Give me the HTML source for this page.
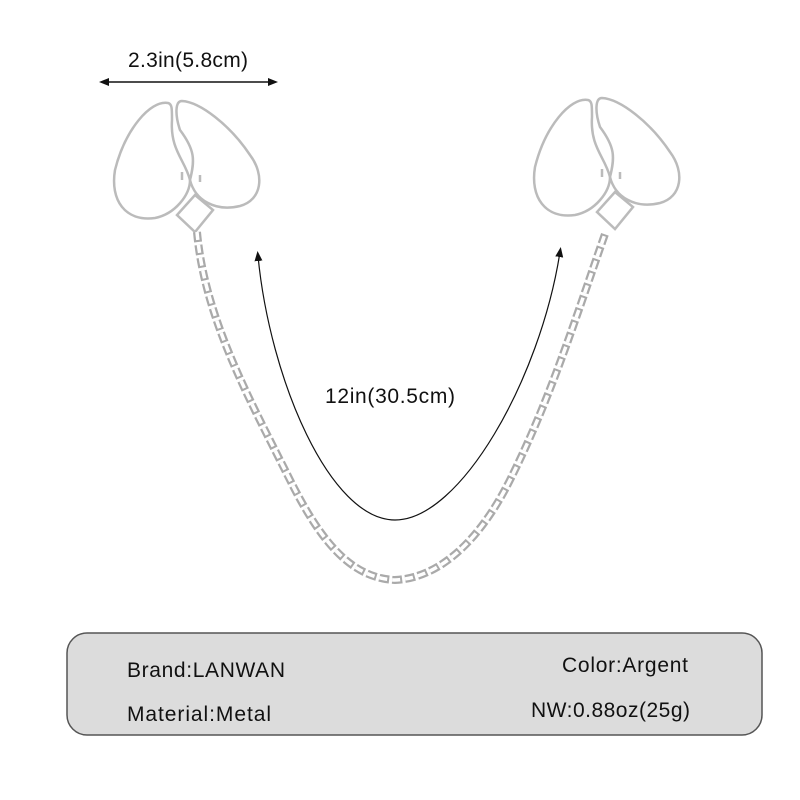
<!DOCTYPE html>
<html><head><style>body{margin:0;background:#fff}svg{display:block}text{font-family:"Liberation Sans",sans-serif;fill:#111}</style></head><body>
<svg width="800" height="800" viewBox="0 0 800 800">
<defs>
<marker id="a" markerWidth="10" markerHeight="10" refX="5" refY="5" orient="auto-start-reverse" markerUnits="userSpaceOnUse"><path d="M0,1 L10,5 L0,9Z" fill="#111"/></marker>
<g id="heart" fill="none" stroke="#bbb" stroke-width="2.5">
<path d="M168,103 C150,100 125,130 115,170 C110,200 125,222 155,218 C175,214 190,195 190,180 C185,160 170,150 172,120 C172,108 172,104 168,103Z"/>
<path d="M182,101 C175,101 175,115 180,130 C195,150 195,160 190,180 C195,200 215,212 240,206 C262,200 265,175 250,155 C230,125 200,102 182,101Z"/>
<path d="M195,195 L213,210 L195,232 L177,215Z"/>
<path d="M182,180 L182,172 M200,175 L200,182"/>
</g>
</defs>
<line x1="104" y1="82" x2="273" y2="82" stroke="#111" stroke-width="1.5" marker-start="url(#a)" marker-end="url(#a)"/>
<text x="188" y="67" font-size="21" text-anchor="middle" textLength="120">2.3in(5.8cm)</text>
<use href="#heart"/>
<use href="#heart" transform="translate(420,-3)"/>
<path d="M197,232 C205,320 250,400 290,480 C320,540 350,578 395,580 C440,578 480,540 510,480 C550,400 575,320 605,234" fill="none" stroke="#aaa" stroke-width="8" stroke-dasharray="10 3"/>
<path d="M197,232 C205,320 250,400 290,480 C320,540 350,578 395,580 C440,578 480,540 510,480 C550,400 575,320 605,234" fill="none" stroke="#fff" stroke-width="3.5" stroke-dasharray="8 5"/>
<path d="M258,256 C270,380 330,520 395,520 C460,520 540,380 560,252" fill="none" stroke="#111" stroke-width="1.2" marker-start="url(#a)" marker-end="url(#a)"/>
<text x="390" y="403" font-size="21" text-anchor="middle" textLength="130">12in(30.5cm)</text>
<rect x="67" y="633" width="695" height="102" rx="20" fill="#dcdcdc" stroke="#555" stroke-width="1.5"/>
<text x="127" y="677" font-size="21" textLength="158">Brand:LANWAN</text>
<text x="127" y="721" font-size="21" textLength="144">Material:Metal</text>
<text x="562" y="672" font-size="21" textLength="126">Color:Argent</text>
<text x="531" y="717" font-size="21" textLength="159">NW:0.88oz(25g)</text>
</svg>
</body></html>
